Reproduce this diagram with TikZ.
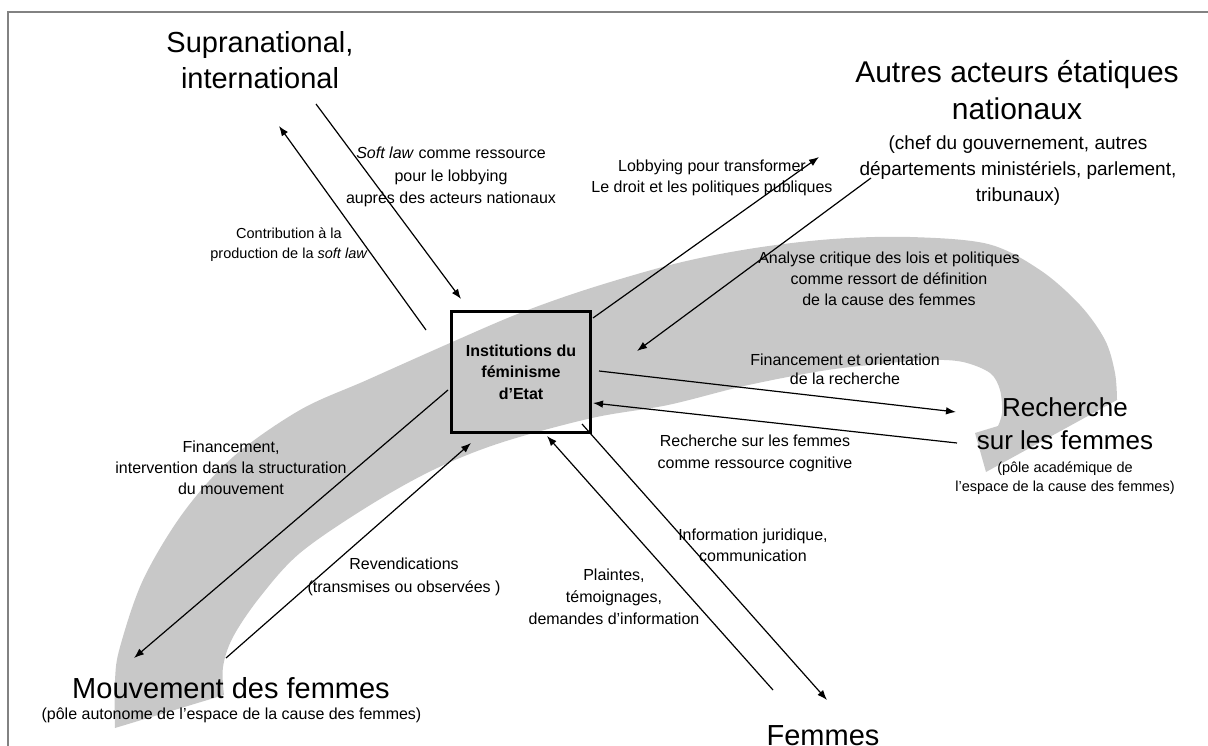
\documentclass[tikz,border=0pt]{standalone}
\usepackage{fontspec}
\setmainfont{Liberation Sans}
\usetikzlibrary{arrows.meta}
\definecolor{bandgray}{RGB}{200,200,200}
\definecolor{framegray}{RGB}{130,130,130}
\newcommand{\fsz}[2]{\fontsize{#1pt}{#2pt}\selectfont}
\begin{document}
\begin{tikzpicture}[x=1pt,y=-1pt,
  lbl/.style={align=center,inner sep=0pt},
  ttl/.style={align=center,inner sep=0pt},
  conn/.style={line width=1.2pt,-{Latex[length=10pt,width=7.5pt]}},
  ]
\useasboundingbox (0,0) rectangle (1208,746);
% frame
\draw[framegray, line width=1.5pt] (8,746) -- (8,12) -- (1208,12);
% gray band (curved arrow)
\fill[bandgray] plot[smooth,tension=0.55] coordinates {(115,728) (115,680) (120,647) (143,580) (183,513) (233,457) (300,410) (367,380) (450,343) (520,313) (591,288) (678,263) (755,248) (833,239) (910,237) (988,244) (1040,270) (1080,305) (1105,340) (1115,373) (1117,400)}
  -- (986,472) -- (975,433)
  -- plot[smooth,tension=0.55] coordinates {(998,426) (1002,413) (1000,390) (990,373) (963,362) (930,360) (880,364) (821,371) (744,386) (668,405) (592,418) (500,443) (433,470) (367,507) (300,553) (260,597) (233,637) (223,667) (224,695)}
  -- cycle;
% central box
\node[draw, line width=3pt, minimum width=139pt, minimum height=121pt, inner sep=0pt, align=center, font=\bfseries\fsz{16}{21.5}] (inst) at (521,372) {Institutions du\\féminisme\\d'Etat};
% poles
\node[ttl, font=\fsz{29}{36}] (sup) at (260,60) {Supranational,\\international};
\node[ttl, font=\fsz{30}{37}] (aut) at (1017,90) {Autres acteurs étatiques\\nationaux};
\node[ttl, font=\fsz{19}{26}] (autsub) at (1018,171) {(chef du gouvernement, autres\\départements ministériels, parlement,\\tribunaux)};
\node[ttl, font=\fsz{26}{33}] (rech) at (1065,424) {Recherche\\sur les femmes};
\node[ttl, font=\fsz{14.5}{19}] (rechsub) at (1065,478) {(pôle académique de\\l'espace de la cause des femmes)};
\node[ttl, font=\fsz{29}{36}] (mouv) at (231,688) {Mouvement des femmes};
\node[ttl, font=\fsz{16}{20}] (mouvsub) at (231.5,715) {(pôle autonome de l'espace de la cause des femmes)};
\node[ttl, font=\fsz{29}{36}] (fem) at (823,735.5) {Femmes};
% labels
\node[lbl, font=\fsz{16}{22.5}] (lsoft) at (451,177) {\textit{Soft law} comme ressource\\pour le lobbying\\auprès des acteurs nationaux};
\node[lbl, font=\fsz{14.5}{20}] (lcontrib) at (289,245) {Contribution à la\\production de la \textit{soft law}};
\node[lbl, font=\fsz{16}{20.5}] (llobby) at (712,178) {Lobbying pour transformer\\Le droit et les politiques publiques};
\node[lbl, font=\fsz{16}{21}] (lanal) at (889,279) {Analyse critique des lois et politiques\\comme ressort de définition\\de la cause des femmes};
\node[lbl, font=\fsz{16}{19}] (lfin) at (845,369) {Financement et orientation\\de la recherche};
\node[lbl, font=\fsz{16}{22}] (lrech) at (755,453) {Recherche sur les femmes\\comme ressource cognitive};
\node[lbl, font=\fsz{16}{21}] (linfo) at (753,545) {Information juridique,\\communication};
\node[lbl, font=\fsz{16}{22}] (lplaint) at (614,597) {Plaintes,\\témoignages,\\demandes d'information};
\node[lbl, font=\fsz{16}{23}] (lrev) at (404,577) {Revendications\\(transmises ou observées )};
\node[lbl, font=\fsz{16}{21}] (lfinmv) at (231,468) {Financement,\\intervention dans la structuration\\du mouvement};
% connector end points
\coordinate (a1s) at (426,330); \coordinate (a1e) at (279,126);
\coordinate (a2s) at (316,104); \coordinate (a2e) at (461,299);
\coordinate (a3s) at (593,318); \coordinate (a3e) at (819,157);
\coordinate (a4s) at (871,178); \coordinate (a4e) at (637,351);
\coordinate (a5s) at (599,371); \coordinate (a5e) at (956,412);
\coordinate (a6s) at (957,443); \coordinate (a6e) at (593,403);
\coordinate (a7s) at (582,424); \coordinate (a7e) at (827,700);
\coordinate (a8s) at (773,690); \coordinate (a8e) at (547,436);
\coordinate (a9s) at (226,658); \coordinate (a9e) at (471,443);
\coordinate (a10s) at (448,390); \coordinate (a10e) at (134,658);
% connectors
\draw[conn] (a1s) -- (a1e);
\draw[conn] (a2s) -- (a2e);
\draw[conn] (a3s) -- (a3e);
\draw[conn] (a4s) -- (a4e);
\draw[conn] (a5s) -- (a5e);
\draw[conn] (a6s) -- (a6e);
\draw[conn] (a7s) -- (a7e);
\draw[conn] (a8s) -- (a8e);
\draw[conn] (a9s) -- (a9e);
\draw[conn] (a10s) -- (a10e);
\end{tikzpicture}
\end{document}
